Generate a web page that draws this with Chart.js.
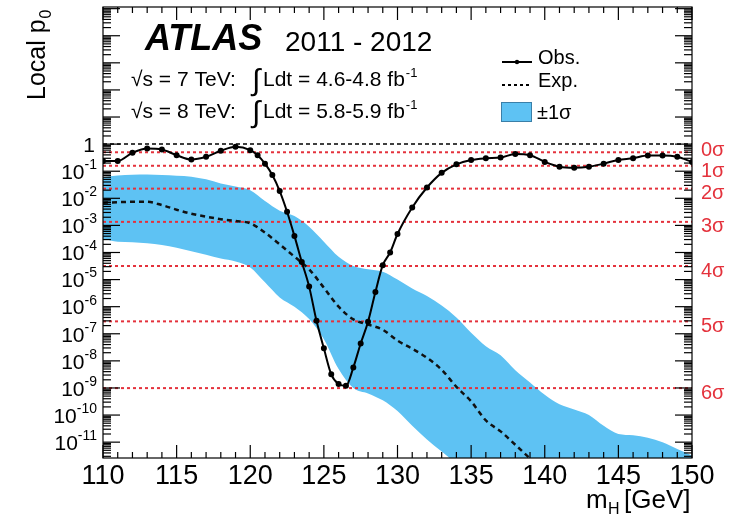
<!DOCTYPE html>
<html>
<head>
<meta charset="utf-8">
<script src="https://cdn.jsdelivr.net/npm/chart.js@4"></script>
<style>
  body { margin: 0; background: #fff; }
  canvas { display: block; }
</style>
</head>
<body>
<canvas id="chart" width="731" height="518"></canvas>
<script>
// observed local p0 (GeV, p0)
const obsMass = [110, 111, 112, 113, 114, 115, 116, 117, 118, 119, 120, 120.5, 121, 121.5, 122, 122.5, 123, 123.5, 124, 124.5, 125, 125.5, 126, 126.5, 127, 127.5, 128, 128.5, 129, 129.5, 130, 131, 132, 133, 134, 135, 136, 137, 138, 139, 140, 141, 142, 143, 144, 145, 146, 147, 148, 149, 150];
const obsP = [0.24, 0.24, 0.48, 0.69, 0.63, 0.39, 0.27, 0.34, 0.57, 0.8, 0.6, 0.39, 0.19, 0.072, 0.0185, 3.2e-3, 4.1e-4, 4.5e-5, 5.5e-6, 3e-7, 2.9e-8, 3.2e-9, 1.4e-9, 1.2e-9, 5.7e-9, 4.4e-8, 2.8e-7, 3.5e-6, 3.4e-5, 1e-4, 4.8e-4, 4.6e-3, 0.025, 0.087, 0.18, 0.26, 0.3, 0.32, 0.43, 0.39, 0.22, 0.146, 0.134, 0.146, 0.19, 0.26, 0.3, 0.38, 0.38, 0.34, 0.22];

// expected p0 and its +-1 sigma band
const expMass = [110, 111, 112, 113, 114, 115, 116, 117, 118, 119, 120, 121, 122, 123, 124, 125, 126, 127, 128, 129, 130, 131, 132, 133, 134, 135, 136, 137, 138, 139, 140];
const expP = [6.8e-3, 7.2e-3, 7.4e-3, 7.4e-3, 5.6e-3, 3.8e-3, 2.7e-3, 2.1e-3, 1.7e-3, 1.45e-3, 1.2e-3, 5.4e-4, 2e-4, 7e-5, 2.4e-5, 5e-6, 1e-6, 3.4e-7, 2.2e-7, 1.4e-7, 5.6e-8, 2.8e-8, 1.3e-8, 4.7e-9, 1.1e-9, 3.2e-10, 6.3e-11, 2.5e-11, 8e-12, 2.5e-12, 8e-13];

const bandMass = [110, 111, 112, 113, 114, 115, 116, 117, 118, 119, 120, 121, 122, 123, 124, 125, 126, 127, 128, 129, 130, 131, 132, 133, 134, 135, 136, 137, 138, 139, 140, 141, 142, 143, 144, 145, 146, 147, 148, 149, 150];
const bandUp = [0.06, 0.069, 0.074, 0.076, 0.072, 0.068, 0.063, 0.05, 0.035, 0.027, 0.02, 8e-3, 3.5e-3, 2.2e-3, 8.9e-4, 2.5e-4, 7e-5, 3.2e-5, 2.4e-5, 1.95e-5, 1e-5, 4.7e-6, 2.5e-6, 1.1e-6, 4e-7, 1.1e-7, 3.5e-8, 1.6e-8, 4.5e-9, 1.6e-9, 5.6e-10, 2.5e-10, 1.6e-10, 1e-10, 4e-11, 2e-11, 1.8e-11, 1.45e-11, 1e-11, 5.6e-12, 3.2e-12];
const bandLo = [3.2e-4, 2.5e-4, 2.4e-4, 2.2e-4, 1.9e-4, 1.5e-4, 1.1e-4, 8.3e-5, 6e-5, 4.7e-5, 2.8e-5, 7.9e-6, 2.2e-6, 1e-6, 3.5e-7, 6.3e-8, 5e-9, 1e-9, 6.3e-10, 3.5e-10, 1.4e-10, 4e-11, 1.26e-11, 4.5e-12, 1.6e-12, 5e-13, 3e-13, 3e-13, 3e-13, 3e-13, 3e-13, 3e-13, 3e-13, 3e-13, 3e-13, 3e-13, 3e-13, 3e-13, 3e-13, 3e-13, 3e-13];

// significance reference lines
const sigmaP = [0.5, 0.1587, 0.02275, 1.35e-3, 3.17e-5, 2.87e-7, 9.87e-10];
const sigmaLabels = ['0σ', '1σ', '2σ', '3σ', '4σ', '5σ', '6σ'];

// axis ticks
const xTickLabels = [110, 115, 120, 125, 130, 135, 140, 145, 150];
const yTickExps = [0, -1, -2, -3, -4, -5, -6, -7, -8, -9, -10, -11];

const FONT = '"Liberation Sans", Arial, Helvetica, sans-serif';
const BAND = '#5ec2f3';
const RED = '#e4323c';

const pts = (xs, ys) => xs.map((m, i) => ({ x: m, y: ys[i] }));
const hline = (p) => [{ x: 110, y: p }, { x: 150, y: p }];

const decor = {
  id: 'decor',
  afterDatasetsDraw(chart) {
    const { ctx, chartArea: a, scales: { x, y } } = chart;
    ctx.save();
    ctx.strokeStyle = '#000';
    ctx.fillStyle = '#000';
    ctx.lineWidth = 1.2;

    const seg = (x1, y1, x2, y2) => {
      ctx.beginPath(); ctx.moveTo(x1, y1); ctx.lineTo(x2, y2); ctx.stroke();
    };

    // frame
    ctx.strokeRect(a.left, a.top, a.right - a.left, a.bottom - a.top);

    // x ticks, top and bottom, pointing inward
    for (let m = 110; m <= 150; m++) {
      const px = x.getPixelForValue(m);
      const len = m % 5 === 0 ? 13 : 6;
      seg(px, a.bottom, px, a.bottom - len);
      seg(px, a.top, px, a.top + len);
    }
    // y ticks, left and right
    for (let e = -12; e <= 5; e++) {
      for (let k = 1; k <= 9; k++) {
        const v = k * Math.pow(10, e);
        if (v < y.min || v > y.max) continue;
        const py = y.getPixelForValue(v);
        const len = k === 1 ? 17 : 8;
        seg(a.left, py, a.left + len, py);
        seg(a.right, py, a.right - len, py);
      }
    }

    // x tick labels
    ctx.font = '27px ' + FONT;
    ctx.textAlign = 'center';
    ctx.textBaseline = 'alphabetic';
    xTickLabels.forEach(m => ctx.fillText(String(m), x.getPixelForValue(m), 484));

    // y tick labels with superscript exponents
    yTickExps.forEach(e => {
      const py = y.getPixelForValue(Math.pow(10, e)) + 2;
      ctx.textBaseline = 'middle';
      ctx.textAlign = 'right';
      if (e === 0) {
        ctx.font = '21px ' + FONT;
        ctx.fillText('1', 95, py);
        return;
      }
      ctx.font = '14px ' + FONT;
      const sup = String(e);
      const supW = ctx.measureText(sup).width;
      ctx.fillText(sup, 97, py - 8);
      ctx.font = '21px ' + FONT;
      ctx.fillText('10', 97 - supW, py);
    });

    // sigma labels
    ctx.fillStyle = RED;
    ctx.font = '20px ' + FONT;
    ctx.textAlign = 'left';
    ctx.textBaseline = 'middle';
    sigmaP.forEach((p, i) => {
      const py = y.getPixelForValue(p) + (i === 0 ? -2 : i === 1 ? 6 : 5);
      ctx.fillText(sigmaLabels[i], 701, py);
    });

    // y axis title
    ctx.fillStyle = '#000';
    ctx.save();
    ctx.translate(45, 100);
    ctx.rotate(-Math.PI / 2);
    ctx.textAlign = 'left';
    ctx.textBaseline = 'alphabetic';
    ctx.font = '25px ' + FONT;
    ctx.fillText('Local p', 0, 0);
    const lw = ctx.measureText('Local p').width;
    ctx.font = '16px ' + FONT;
    ctx.fillText('0', lw + 1, 6);
    ctx.restore();

    // x axis title
    ctx.textAlign = 'left';
    ctx.textBaseline = 'alphabetic';
    ctx.font = '26px ' + FONT;
    ctx.fillText('m', 586, 508);
    ctx.font = '16px ' + FONT;
    ctx.fillText('H', 608, 514);
    ctx.font = '26px ' + FONT;
    ctx.fillText('[GeV]', 624, 508);

    // ATLAS label
    ctx.font = 'italic bold 36px ' + FONT;
    ctx.fillText('ATLAS', 145, 50);
    ctx.font = '28px ' + FONT;
    ctx.fillText('2011 - 2012', 285, 51);

    // luminosity lines
    const lumi = (sqrtS, range, base) => {
      ctx.font = '21px ' + FONT;
      ctx.fillText('√s = ' + sqrtS + ' TeV:', 131, base);
      ctx.font = '30px ' + FONT;
      ctx.fillText('∫', 252, base + 4);
      ctx.font = '21px ' + FONT;
      const t = 'Ldt = ' + range + ' fb';
      ctx.fillText(t, 263, base);
      const w = ctx.measureText(t).width;
      ctx.font = '13px ' + FONT;
      ctx.fillText('-1', 263 + w + 1, base - 9);
    };
    lumi('7', '4.6-4.8', 86);
    lumi('8', '5.8-5.9', 118);

    // legend
    ctx.strokeStyle = '#000';
    ctx.lineWidth = 2;
    seg(502, 62, 532, 62);
    ctx.beginPath(); ctx.arc(517, 62, 2.2, 0, Math.PI * 2); ctx.fill();
    ctx.setLineDash([3, 3]);
    seg(502, 85, 532, 85);
    ctx.setLineDash([]);
    ctx.fillStyle = BAND;
    ctx.fillRect(501, 102, 31, 20);
    ctx.lineWidth = 1;
    ctx.strokeStyle = '#3a7fa8';
    ctx.strokeRect(501.5, 102.5, 30, 19);
    ctx.fillStyle = '#000';
    ctx.font = '20px ' + FONT;
    ctx.textBaseline = 'middle';
    ctx.fillText('Obs.', 538, 58);
    ctx.fillText('Exp.', 538, 81);
    ctx.fillText('±1σ', 537, 113);

    ctx.restore();
  }
};

const datasets = [
  {
    label: 'Obs.',
    data: pts(obsMass, obsP),
    borderColor: '#000',
    backgroundColor: '#000',
    borderWidth: 2,
    pointRadius: 2,
    pointHoverRadius: 2,
    cubicInterpolationMode: 'monotone',
    fill: false
  },
  {
    label: 'Exp.',
    data: pts(expMass, expP),
    borderColor: '#111',
    borderWidth: 2.5,
    borderDash: [5, 4],
    pointRadius: 0,
    cubicInterpolationMode: 'monotone',
    fill: false
  },
  {
    label: 'p0 = 1',
    data: hline(1),
    borderColor: '#000',
    borderWidth: 1.5,
    borderDash: [4, 3],
    pointRadius: 0,
    fill: false
  },
  ...sigmaP.map((p, i) => ({
    label: sigmaLabels[i],
    data: hline(p),
    borderColor: RED,
    borderWidth: 2,
    borderDash: [3, 3],
    pointRadius: 0,
    fill: false
  })),
  {
    label: '+1σ',
    data: pts(bandMass, bandUp),
    borderWidth: 0,
    borderColor: 'rgba(0,0,0,0)',
    backgroundColor: BAND,
    pointRadius: 0,
    cubicInterpolationMode: 'monotone',
    fill: '+1'
  },
  {
    label: '-1σ',
    data: pts(bandMass, bandLo),
    borderWidth: 0,
    borderColor: 'rgba(0,0,0,0)',
    pointRadius: 0,
    cubicInterpolationMode: 'monotone',
    fill: false
  }
];

new Chart(document.getElementById('chart'), {
  type: 'line',
  data: { datasets },
  options: {
    responsive: false,
    animation: false,
    events: [],
    layout: { padding: { left: 103, right: 39, top: 7, bottom: 60 } },
    scales: {
      x: { type: 'linear', min: 110, max: 150, display: false },
      y: { type: 'logarithmic', min: 2.6e-12, max: 1.15e5, display: false }
    },
    plugins: {
      legend: { display: false },
      tooltip: { enabled: false }
    }
  },
  plugins: [decor]
});
</script>
</body>
</html>
